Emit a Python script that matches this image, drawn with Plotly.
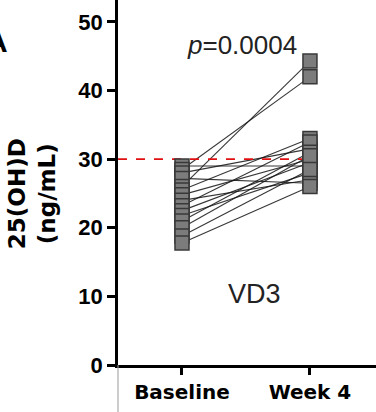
import plotly.graph_objects as go

categories = ["Baseline", "Week 4"]
baseline = [29.0, 28.5, 28.0, 27.2, 26.0, 25.5, 24.8, 24.0, 23.2, 22.5, 21.8, 21.0, 20.0, 18.8, 17.8]
week4 = [29.0, 42.0, 31.5, 26.5, 44.3, 33.0, 30.0, 27.0, 32.5, 29.5, 28.0, 31.0, 30.5, 28.5, 26.0]
y_ticks = [0, 10, 20, 30, 40, 50]
threshold = 30
p_text = "<i>p</i>=0.0004"
group_label = "VD3"

fig = go.Figure()

# paired lines
for b, w in zip(baseline, week4):
    fig.add_trace(go.Scatter(
        x=[0, 1], y=[b, w], mode="lines",
        line=dict(color="rgba(20,20,20,0.85)", width=1.1),
        showlegend=False, hoverinfo="skip"))

# threshold line
fig.add_trace(go.Scatter(
    x=[-0.5, 1.04], y=[threshold, threshold], mode="lines",
    line=dict(color="#e01010", width=1.6, dash="dash"),
    showlegend=False, hoverinfo="skip"))

# markers
for xi, vals in [(0, baseline), (1, week4)]:
    fig.add_trace(go.Scatter(
        x=[xi] * len(vals), y=vals, mode="markers",
        marker=dict(symbol="square", size=14, color="#7c7c7c",
                    line=dict(color="#383838", width=1.5)),
        showlegend=False))

fig.update_layout(
    width=376, height=412,
    margin=dict(l=118, r=0, t=0, b=47),
    plot_bgcolor="white", paper_bgcolor="white",
    xaxis=dict(
        range=[-0.5, 1.516], tickmode="array", tickvals=[0, 1], ticktext=categories,
        showline=True, linecolor="black", linewidth=2.5, showgrid=False, zeroline=False,
        ticks="outside", ticklen=7, tickwidth=2.5, tickcolor="black",
        tickfont=dict(family="DejaVu Sans", size=20, color="black", weight="bold"),
    ),
    yaxis=dict(
        range=[0, 53.2], tickmode="array", tickvals=y_ticks,
        showline=True, linecolor="black", linewidth=2.5, showgrid=False, zeroline=False,
        ticks="outside", ticklen=8, tickwidth=2.5, tickcolor="black",
        tickfont=dict(family="Liberation Sans", size=22, color="black", weight="bold"),
    ),
    annotations=[
        dict(text=p_text, x=0.47, y=46.6, xref="x", yref="y", showarrow=False,
             font=dict(family="Liberation Sans", size=26, color="#222222")),
        dict(text=group_label, x=0.57, y=10.3, xref="x", yref="y", showarrow=False,
             font=dict(family="Liberation Sans", size=27, color="#222222")),
        dict(text="25(OH)D<br>(ng/mL)", x=0, y=0.468, xref="paper", yref="paper",
             xshift=-86, textangle=-90, showarrow=False, xanchor="center", yanchor="middle",
             font=dict(family="DejaVu Sans", size=23, color="black", weight="bold")),
        dict(text="A", x=0, y=0.885, xref="paper", yref="paper", xshift=-121,
             showarrow=False, xanchor="center", yanchor="middle",
             font=dict(family="Liberation Sans", size=30, color="black", weight="bold")),
    ],
    shapes=[
        dict(type="line", xref="paper", yref="paper", x0=0, x1=0, y0=-0.13, y1=0,
             line=dict(color="#9a9a9a", width=1)),
    ],
)

fig.write_html("out.html", config={"displayModeBar": False},
               post_script="document.body.style.margin='0';")
